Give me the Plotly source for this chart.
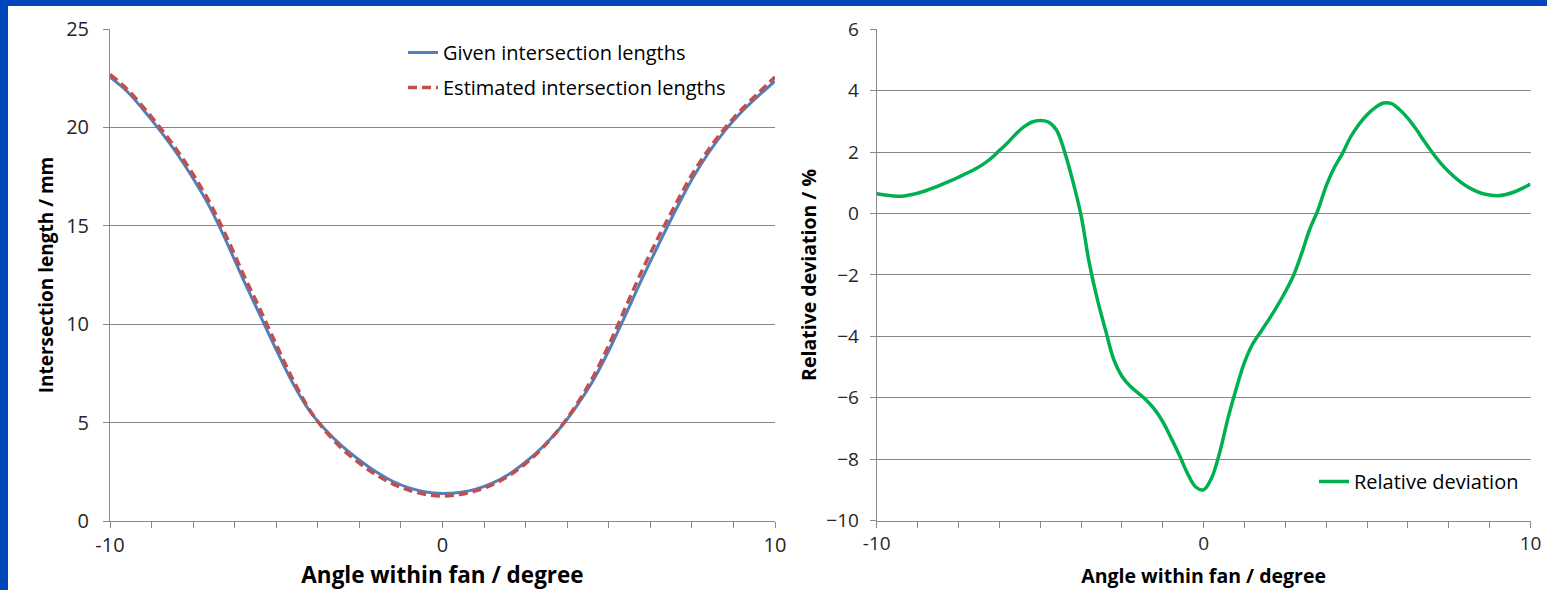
import plotly.graph_objects as go

# ---------------- data ----------------
angle_len = [-10, -9.5, -9, -8.5, -8, -7.5, -7, -6.5, -6, -5.5, -5, -4.5, -4, -3.5, -3, -2.5, -2, -1.5, -1, -0.5,
             0, 0.5, 1, 1.5, 2, 2.5, 3, 3.5, 4, 4.5, 5, 5.5, 6, 6.5, 7, 7.5, 8, 8.5, 9, 9.5, 10]
given_len = [22.55, 21.85, 20.9, 19.85, 18.7, 17.4, 15.95, 14.2, 12.3, 10.5, 8.7, 7.0, 5.6, 4.6, 3.78, 3.1, 2.5,
             2.02, 1.68, 1.47, 1.4, 1.45, 1.62, 1.93, 2.38, 3.0, 3.75, 4.65, 5.75, 7.05, 8.65, 10.45, 12.3, 14.05,
             15.75, 17.35, 18.7, 19.85, 20.8, 21.6, 22.35]
estimated_len = [22.69, 21.97, 21.03, 20.0, 18.88, 17.61, 16.18, 14.46, 12.58, 10.8, 8.96, 7.19, 5.66, 4.53, 3.64,
                 2.94, 2.35, 1.89, 1.56, 1.35, 1.27, 1.34, 1.53, 1.85, 2.3, 2.92, 3.7, 4.66, 5.84, 7.23, 8.93,
                 10.83, 12.72, 14.44, 16.06, 17.59, 18.87, 19.98, 20.92, 21.75, 22.56]

angle_dev = [-10, -9.75, -9.5, -9.25, -9, -8.75, -8.5, -8.25, -8, -7.75, -7.5, -7.25, -7, -6.75, -6.5, -6.25, -6,
             -5.75, -5.5, -5.25, -5, -4.75, -4.5, -4.25, -4, -3.75, -3.5, -3.25, -3, -2.75, -2.5, -2.25, -2,
             -1.75, -1.5, -1.25, -1, -0.75, -0.5, -0.25, 0, 0.25, 0.5, 0.75, 1, 1.25, 1.5, 1.75, 2, 2.25, 2.5,
             2.75, 3, 3.25, 3.5, 3.75, 4, 4.25, 4.5, 4.75, 5, 5.25, 5.5, 5.75, 6, 6.25, 6.5, 6.75, 7, 7.25, 7.5,
             7.75, 8, 8.25, 8.5, 8.75, 9, 9.25, 9.5, 9.75, 10]
rel_dev = [0.64, 0.6, 0.57, 0.56, 0.6, 0.66, 0.74, 0.84, 0.95, 1.06, 1.18, 1.31, 1.44, 1.6, 1.8, 2.05, 2.3, 2.58,
           2.82, 2.98, 3.03, 2.98, 2.72, 2.0, 1.05, -0.05, -1.6, -2.8, -3.8, -4.75, -5.3, -5.62, -5.85, -6.08,
           -6.38, -6.78, -7.3, -7.85, -8.45, -8.9, -9.0, -8.6, -7.75, -6.65, -5.7, -4.85, -4.25, -3.85, -3.45,
           -3.02, -2.55, -2.02, -1.3, -0.5, 0.12, 0.9, 1.5, 1.96, 2.5, 2.9, 3.22, 3.45, 3.6, 3.58, 3.38, 3.1,
           2.75, 2.35, 1.98, 1.64, 1.36, 1.12, 0.92, 0.77, 0.66, 0.6, 0.58, 0.62, 0.7, 0.82, 0.96]

x_tick_vals = [-10, -8.75, -7.5, -6.25, -5, -3.75, -2.5, -1.25, 0, 1.25, 2.5, 3.75, 5, 6.25, 7.5, 8.75, 10]
x_tick_text = ["-10", "", "", "", "", "", "", "", "0", "", "", "", "", "", "", "", "10"]

# ---------------- figure ----------------
W, H = 1547, 590
FONT = "'Open Sans', Calibri, sans-serif"
GRID = "#898989"
TXT = "#262626"

fig = go.Figure()
fig.add_trace(go.Scatter(x=angle_len, y=given_len, mode="lines", name="Given intersection lengths",
                         line=dict(color="#4F81BD", width=3, shape="spline"), xaxis="x", yaxis="y",
                         legend="legend", showlegend=True))
fig.add_trace(go.Scatter(x=angle_len, y=estimated_len, mode="lines", name="Estimated intersection lengths",
                         line=dict(color="#C0504D", width=3.5, dash="9px,5px", shape="spline"),
                         xaxis="x", yaxis="y", legend="legend2", showlegend=True))
fig.add_trace(go.Scatter(x=angle_dev, y=rel_dev, mode="lines", name="Relative deviation",
                         line=dict(color="#00B050", width=3.5, shape="spline"), xaxis="x2", yaxis="y2",
                         legend="legend3", showlegend=True))


def px_x(p):
    return p / W


def px_y(p):
    return 1 - p / H


def xaxis_style(size, title_size):
    return dict(tickvals=x_tick_vals, ticktext=x_tick_text, ticks="outside", ticklen=6, tickcolor=GRID,
                showline=True, linecolor=GRID, linewidth=1, showgrid=False, zeroline=False, automargin=False,
                tickfont=dict(size=size, color=TXT, family=FONT),
                title=dict(text="<b>Angle within fan / degree</b>",
                           font=dict(size=title_size, color="#000", family=FONT), standoff=14))


def yaxis_style(size, standoff):
    return dict(ticks="outside", ticklen=6, tickcolor=GRID, showline=True, linecolor=GRID, linewidth=1,
                showgrid=True, gridcolor=GRID, gridwidth=1, zeroline=False, automargin=False,
                tickfont=dict(size=size, color=TXT, family=FONT), ticklabelstandoff=standoff)


fig.update_layout(
    template="none",
    width=W, height=H, autosize=False,
    margin=dict(l=0, r=0, t=0, b=0, pad=0, autoexpand=False),
    paper_bgcolor="white", plot_bgcolor="white",
    showlegend=True,
    font=dict(family=FONT, color=TXT),
    xaxis=dict(domain=[px_x(110), px_x(775)], range=[-10, 10], anchor="y", **xaxis_style(20, 22.5)),
    yaxis=dict(domain=[px_y(521), px_y(29)], range=[0, 25], dtick=5, anchor="x",
               title=dict(text="<b>Intersection length / mm</b>",
                          font=dict(size=19, color="#000", family=FONT), standoff=7),
               **yaxis_style(20, 10)),
    xaxis2=dict(domain=[px_x(876.7), px_x(1530.5)], range=[-10, 10], anchor="y2", **xaxis_style(19, 19.5)),
    yaxis2=dict(domain=[px_y(520.5), px_y(29.3)], range=[-10, 6], dtick=2, anchor="x2",
                title=dict(text="<b>Relative deviation / %</b>",
                           font=dict(size=19.5, color="#000", family=FONT), standoff=4),
                **yaxis_style(19, 7)),
    legend=dict(x=px_x(403), y=px_y(33), xanchor="left", yanchor="top", bgcolor="rgba(0,0,0,0)",
                borderwidth=0, font=dict(size=20, color="#000", family=FONT)),
    legend2=dict(x=px_x(403), y=px_y(68), xanchor="left", yanchor="top", bgcolor="rgba(0,0,0,0)",
                 borderwidth=0, font=dict(size=20, color="#000", family=FONT)),
    legend3=dict(x=px_x(1314), y=px_y(462), xanchor="left", yanchor="top", bgcolor="rgba(0,0,0,0)",
                 borderwidth=0, font=dict(size=20, color="#000", family=FONT)),
    shapes=[
        dict(type="rect", xref="paper", yref="paper", x0=0, x1=px_x(8), y0=0, y1=1,
             fillcolor="#0047BB", line=dict(width=0), layer="above"),
        dict(type="rect", xref="paper", yref="paper", x0=0, x1=1, y0=px_y(6), y1=1,
             fillcolor="#0047BB", line=dict(width=0), layer="above"),
    ],
)

fig.write_html("out.html", config={"displayModeBar": False},
               post_script="document.body.style.margin='0px';")
